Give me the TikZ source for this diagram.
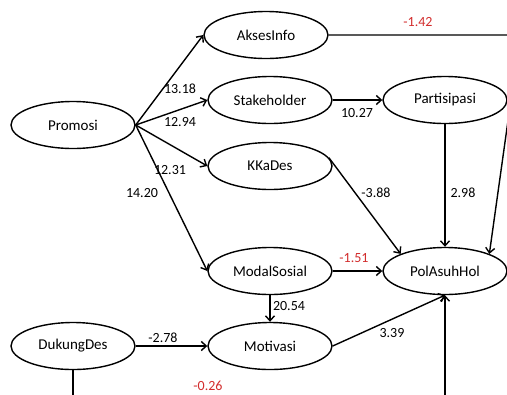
\documentclass[tikz,border=0pt]{standalone}
\usepackage{fontspec}
\setmainfont{Carlito}
\usetikzlibrary{shapes.geometric,arrows.meta}
\definecolor{labred}{RGB}{210,45,45}
\begin{document}
\begin{tikzpicture}[x=1bp,y=-1bp,
  lat/.style={draw,ellipse,line width=1.4bp,minimum width=124bp,minimum height=47bp,inner sep=0pt,font=\fontsize{15bp}{17bp}\selectfont},
  conn/.style={line width=1.4bp},
  arr/.style={conn,-{Straight Barb[length=5bp,width=9bp]}},
  lab/.style={font=\fontsize{14bp}{16bp}\selectfont,inner sep=0pt},
  neg/.style={lab,text=labred}]
\useasboundingbox (0,0) rectangle (507,394);
\clip (0,0) rectangle (507,394);
\node[lat] (prom) at (73,125) {Promosi};
\node[lat] (aks) at (266,35) {AksesInfo};
\node[lat] (stk) at (270,100) {Stakeholder};
\node[lat] (part) at (445,100) {Partisipasi};
\node[lat] (kka) at (270,166) {KKaDes};
\node[lat] (mod) at (270,271) {ModalSosial};
\node[lat] (pol) at (445,271) {PolAsuhHol};
\node[lat] (duk) at (73,346) {DukungDes};
\node[lat] (mot) at (270,346) {Motivasi};
\coordinate (c1) at (520,35);
\coordinate (b1) at (73,402);
\coordinate (b2) at (445,402);
\draw[arr] (prom.east) -- (aks.west);
\draw[arr] (prom.east) -- (stk.west);
\draw[arr] (prom.east) -- (kka.west);
\draw[arr] (prom.east) -- (mod.west);
\draw[arr] (stk.east) -- (part.west);
\draw[arr] (aks.east) -- (c1) -- (pol.north east);
\draw[arr] (kka.8) -- (pol.north west);
\draw[arr] (part.south) -- (pol.north);
\draw[arr] (mod.east) -- (pol.west);
\draw[arr] (mod.south) -- (mot.north);
\draw[arr] (mot.east) -- (pol.south);
\draw[arr] (duk.east) -- (mot.west);
\draw[arr] (duk.south) -- (b1) -- (b2) -- (pol.south);
\node[lab] at (180,89) {13.18};
\node[lab] at (180,122) {12.94};
\node[lab] at (170,170) {12.31};
\node[lab] at (142,193) {14.20};
\node[neg] at (418,22) {-1.42};
\node[lab] at (357,113) {10.27};
\node[lab] at (376,193) {-3.88};
\node[lab] at (463,193) {2.98};
\node[neg] at (354,258) {-1.51};
\node[lab] at (289,306) {20.54};
\node[lab] at (392,333) {3.39};
\node[lab] at (163,338) {-2.78};
\node[neg] at (208,386) {-0.26};
\end{tikzpicture}
\end{document}
